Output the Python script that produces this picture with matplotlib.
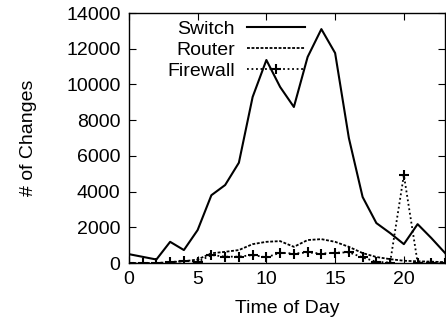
import matplotlib
matplotlib.use("Agg")
import matplotlib.pyplot as plt

plt.rcParams['font.family'] = ['Liberation Sans', 'DejaVu Sans']

hours = list(range(24))
switch = [500, 350, 200, 1190, 730, 1850, 3800, 4370, 5620, 9300, 11370, 9860,
          8740, 11540, 13100, 11760, 7000, 3700, 2240, 1680, 1060, 2180, 1400, 560]
router = [0, 0, 0, 50, 100, 200, 550, 630, 730, 1060, 1190, 1230,
          910, 1290, 1340, 1190, 910, 560, 340, 220, 130, 100, 80, 50]
firewall = [0, 0, 0, 50, 130, 70, 450, 360, 360, 450, 320, 580,
            530, 600, 530, 580, 600, 320, 70, 30, 4930, 30, 30, 20]

fig = plt.figure(figsize=(4.46, 3.26), dpi=100)
ax = fig.add_axes([0.289, 0.193, 0.709, 0.767])

ax.plot(hours, switch, color='black', lw=1.5, label='Switch')
ax.plot(hours, router, color='black', lw=1.3, dashes=(1.6, 0.9), label='Router')
ax.plot(hours, firewall, color='black', lw=1.3, dashes=(1, 1.5), marker='+',
        markersize=7, markeredgewidth=1.5, label='Firewall')

ax.set_xlim(0, 23)
ax.set_ylim(0, 14000)
ax.set_xticks([0, 5, 10, 15, 20])
ax.set_yticks(range(0, 14001, 2000))
ax.tick_params(direction='in', length=5, width=0.8, top=True, right=True,
               labelsize=14, pad=6)
for s in ax.spines.values():
    s.set_linewidth(1.0)

ax.set_xlabel('Time of Day', fontsize=14, labelpad=8)
ax.set_ylabel('# of Changes', fontsize=14, labelpad=21)

leg = ax.legend(loc='upper left', bbox_to_anchor=(0.085, 1.018), frameon=False,
                markerfirst=False, fontsize=14, numpoints=1, handlelength=3.0,
                labelspacing=0.17, handletextpad=0.6, borderaxespad=0.2)
for t in leg.get_texts():
    t.set_ha('right')

fig.savefig('out.png', dpi=100)
